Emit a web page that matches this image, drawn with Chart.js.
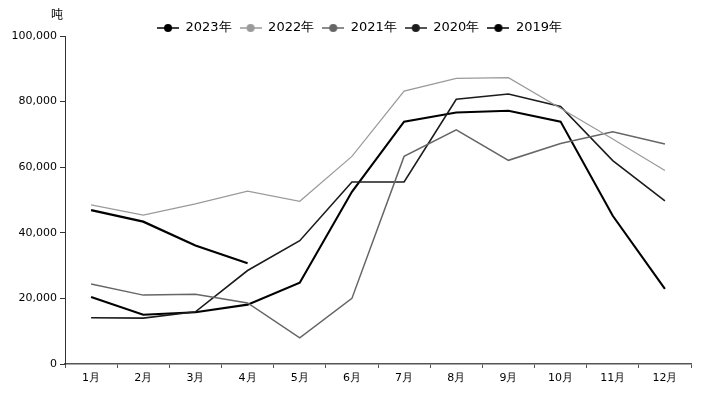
<!DOCTYPE html>
<html lang="zh">

<head>
    <meta charset="UTF-8">
    <title>月度吨数</title>
    <script src="https://cdn.jsdelivr.net/npm/chart.js"></script>
    <style>
        body { margin: 0; background: #fff; }
        #grafico { display: block; }
    </style>
</head>

<body>
    <canvas id="grafico" width="706" height="396"></canvas>

    <script>
        // categorie e serie
        const mesi = ['1月', '2月', '3月', '4月', '5月', '6月', '7月', '8月', '9月', '10月', '11月', '12月'];
        const anni = ['2023年', '2022年', '2021年', '2020年', '2019年'];

        const v2023 = [46900, 43400, 36100, 30700];
        const v2022 = [48500, 45400, 48800, 52700, 49600, 63300, 83200, 87100, 87300, 78000, 68600, 59000];
        const v2021 = [24400, 21000, 21300, 18600, 8000, 20000, 63300, 71400, 62100, 67200, 70800, 67100];
        const v2020 = [14100, 14000, 15900, 28500, 37600, 55500, 55500, 80700, 82300, 78500, 62000, 49700];
        const v2019 = [20400, 15000, 15800, 18100, 24800, 52500, 73900, 76700, 77200, 73900, 45200, 22900];

        const yTicks = [0, 20000, 40000, 60000, 80000, 100000];

        const colori = ['#000000', '#9a9a9a', '#666666', '#1c1c1c', '#000000'];
        const spessori = [2.2, 1.2, 1.5, 1.6, 2.1];
        const serie = [v2023, v2022, v2021, v2020, v2019];

        // simbolo della legenda: linea con cerchio al centro
        function simbolo(colore) {
            const c = document.createElement('canvas');
            c.width = 22;
            c.height = 10;
            const g = c.getContext('2d');
            g.strokeStyle = colore;
            g.lineWidth = 1.5;
            g.beginPath();
            g.moveTo(0, 5);
            g.lineTo(22, 5);
            g.stroke();
            g.fillStyle = colore;
            g.beginPath();
            g.arc(11, 5, 4, 0, Math.PI * 2);
            g.fill();
            return c;
        }

        // sposta la legenda e scrive l'unita' "吨"
        const extra = {
            id: 'extra',
            afterLayout(chart) {
                const lg = chart.legend;
                if (!lg) return;
                const dy = 29 - (lg.top + lg.bottom) / 2;
                lg.top += dy;
                lg.bottom += dy;
                lg.left += 14;
                lg.right += 14;
            },
            afterDraw(chart) {
                const ctx = chart.ctx;
                ctx.save();
                ctx.fillStyle = '#000';
                ctx.font = '12px "Noto Sans CJK SC"';
                ctx.textAlign = 'center';
                ctx.textBaseline = 'middle';
                ctx.fillText('吨', chart.chartArea.left - 8, 14);
                ctx.restore();
            }
        };

        const grafico = new Chart(document.getElementById('grafico').getContext('2d'), {
            type: 'line',
            data: {
                labels: mesi,
                datasets: anni.map((a, i) => ({
                    label: a,
                    data: serie[i],
                    borderColor: colori[i],
                    backgroundColor: colori[i],
                    borderWidth: spessori[i],
                    pointRadius: 0,
                    tension: 0,
                    fill: false
                }))
            },
            options: {
                responsive: false,
                animation: false,
                devicePixelRatio: 1,
                layout: { padding: { top: 5, right: 15, left: 0, bottom: 0 } },
                plugins: {
                    tooltip: { enabled: false },
                    legend: {
                        position: 'top',
                        labels: {
                            usePointStyle: true,
                            pointStyleWidth: 22,
                            padding: 8,
                            color: '#000',
                            font: { family: 'DejaVu Sans', size: 13 },
                            generateLabels(chart) {
                                const items = Chart.defaults.plugins.legend.labels.generateLabels(chart);
                                items.forEach((it, i) => { it.pointStyle = simbolo(colori[i]); });
                                return items;
                            }
                        }
                    }
                },
                scales: {
                    x: {
                        offset: true,
                        grid: { offset: true, drawOnChartArea: false, drawTicks: true, tickLength: 4, color: '#555' },
                        border: { color: '#555', width: 1.5 },
                        ticks: { color: '#000', padding: 4, font: { family: 'DejaVu Sans', size: 11 }, maxRotation: 0 },
                        afterFit(scale) { scale.height = 32; }
                    },
                    y: {
                        min: 0,
                        max: 100000,
                        afterBuildTicks(scale) { scale.ticks = yTicks.map(v => ({ value: v })); },
                        grid: { drawOnChartArea: false, drawTicks: true, tickLength: 5, color: '#333' },
                        border: { color: '#333', width: 1 },
                        ticks: {
                            color: '#000',
                            padding: 3,
                            font: { family: 'DejaVu Sans', size: 11 },
                            callback: v => v.toLocaleString('en-US')
                        },
                        afterFit(scale) { scale.width = 65; }
                    }
                }
            },
            plugins: [extra]
        });
    </script>
</body>

</html>
